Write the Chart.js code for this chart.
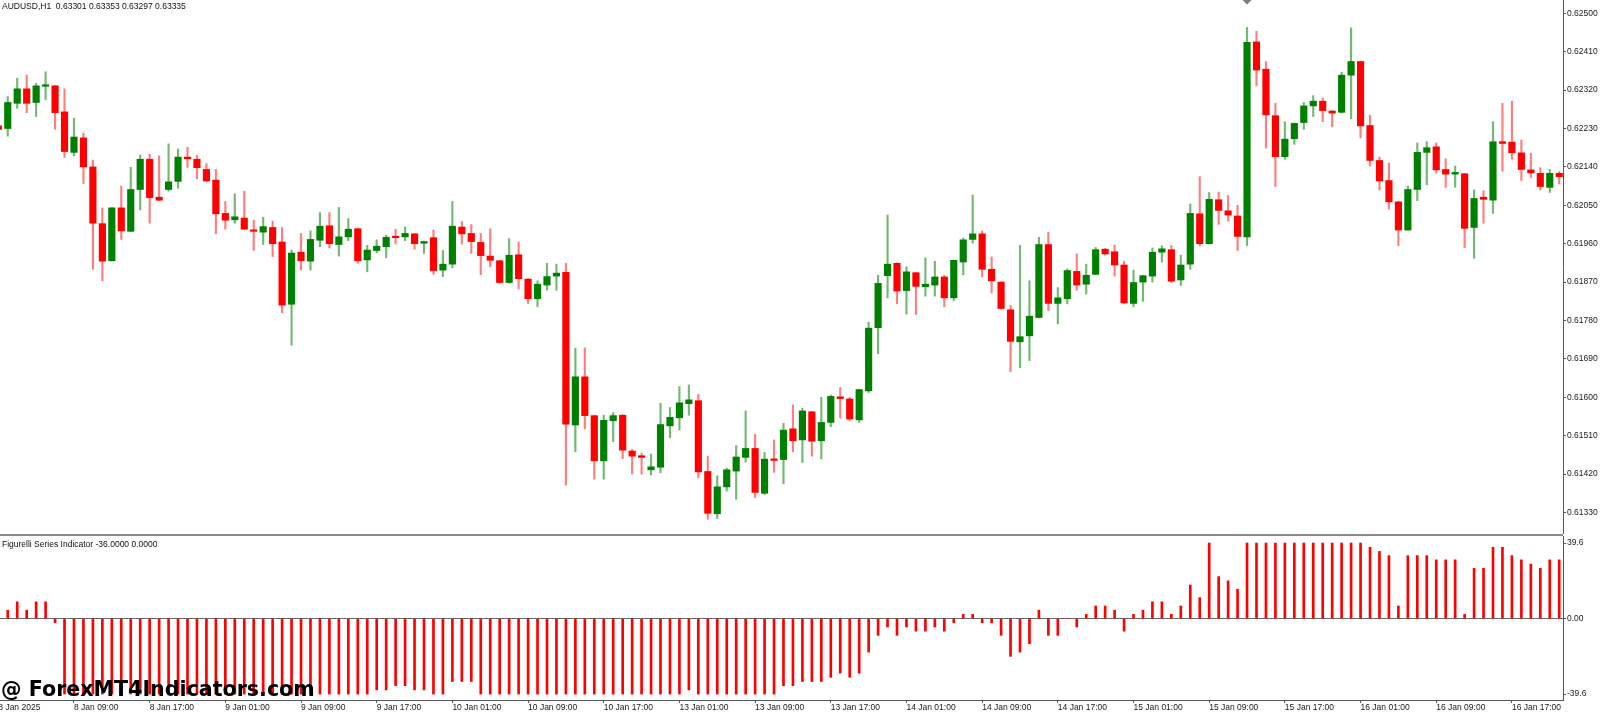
<!DOCTYPE html>
<html><head><meta charset="utf-8">
<script src="https://cdn.jsdelivr.net/npm/chart.js@4.4.1/dist/chart.umd.min.js"></script>
<style>
html,body{margin:0;padding:0;background:#fff;width:1600px;height:713px;overflow:hidden;position:relative;font-family:'Liberation Sans',Arial,sans-serif;}
#main{position:absolute;left:0;top:0;}
#ind{position:absolute;left:0;top:536px;}
.sep{position:absolute;left:0;top:534px;width:1563px;height:2px;background:#8a8a8a;}
.hdr{position:absolute;left:2px;font-size:8.5px;line-height:10px;color:#111;white-space:nowrap;}
.wm{position:absolute;left:1px;top:679px;font:bold 20.6px 'DejaVu Sans',sans-serif;line-height:20px;color:#000;white-space:nowrap;}
</style></head><body>
<canvas id="main" width="1600" height="534"></canvas>
<div class="sep"></div>
<canvas id="ind" width="1600" height="177"></canvas>
<div class="hdr" style="top:1px">AUDUSD,H1&nbsp; 0.63301 0.63353 0.63297 0.63335</div>
<div class="hdr" style="top:539px">Figurelli Series Indicator -36.0000 0.0000</div>
<div class="wm">@ ForexMT4Indicators.com</div>
<script>
// ---- data (H1 bars, 8 Jan 2025 01:00 onward) ----
const opens = [0.62236,0.62230,0.62289,0.62323,0.62291,0.62329,0.62330,0.62269,0.62174,0.62208,
0.62140,0.62007,0.61920,0.62044,0.61989,0.62087,0.62158,0.62069,0.62087,0.62106,
0.62163,0.62158,0.62134,0.62109,0.62031,0.62016,0.62020,0.61992,0.61987,0.61998,
0.61964,0.61818,0.61940,0.61919,0.61968,0.62002,0.61958,0.61976,0.61995,0.61922,
0.61944,0.61953,0.61976,0.61976,0.61983,0.61961,0.61974,0.61898,0.61912,0.61999,
0.61984,0.61963,0.61931,0.61920,0.61869,0.61934,0.61877,0.61831,0.61863,0.61884,
0.61893,0.61535,0.61648,0.61557,0.61451,0.61545,0.61558,0.61474,0.61463,0.61430,
0.61436,0.61533,0.61552,0.61585,0.61592,0.61426,0.61327,0.61390,0.61427,0.61459,
0.61480,0.61375,0.61455,0.61454,0.61526,0.61500,0.61566,0.61498,0.61541,0.61601,
0.61596,0.61547,0.61615,0.61763,0.61885,0.61914,0.61850,0.61892,0.61859,0.61863,
0.61882,0.61833,0.61917,0.61970,0.61983,0.61900,0.61870,0.61805,0.61730,0.61744,
0.61787,0.61958,0.61820,0.61831,0.61895,0.61865,0.61888,0.61947,0.61941,0.61910,
0.61820,0.61870,0.61884,0.61940,0.61946,0.61875,0.61912,0.62030,0.61960,0.62063,
0.62037,0.62025,0.61976,0.62433,0.62369,0.62260,0.62164,0.62206,0.62244,0.62283,
0.62294,0.62271,0.62268,0.62355,0.62387,0.62237,0.62155,0.62108,0.62058,0.61992,
0.62087,0.62174,0.62187,0.62134,0.62123,0.62124,0.61998,0.62069,0.62062,0.62199,
0.62198,0.62173,0.62133,0.62125,0.62092,0.62125];
const highs = [0.62240,0.62305,0.62348,0.62355,0.62336,0.62363,0.62331,0.62323,0.62254,0.62219,
0.62156,0.62044,0.62045,0.62095,0.62139,0.62168,0.62170,0.62166,0.62194,0.62182,
0.62186,0.62167,0.62148,0.62134,0.62059,0.62077,0.62083,0.62015,0.62022,0.62013,
0.61998,0.61945,0.61984,0.61990,0.62033,0.62033,0.62045,0.62019,0.61996,0.61956,
0.61969,0.61980,0.61994,0.61999,0.61984,0.61966,0.61992,0.61944,0.62059,0.62012,
0.62005,0.61984,0.61995,0.61921,0.61972,0.61964,0.61878,0.61873,0.61914,0.61912,
0.61914,0.61715,0.61716,0.61558,0.61558,0.61564,0.61559,0.61478,0.61469,0.61467,
0.61586,0.61576,0.61625,0.61629,0.61607,0.61462,0.61416,0.61434,0.61487,0.61568,
0.61513,0.61471,0.61500,0.61539,0.61582,0.61574,0.61567,0.61600,0.61605,0.61623,
0.61600,0.61619,0.61776,0.61886,0.62027,0.61915,0.61906,0.61893,0.61927,0.61919,
0.61886,0.61922,0.61973,0.62074,0.61990,0.61929,0.61871,0.61815,0.61956,0.61873,
0.61975,0.61987,0.61857,0.61901,0.61936,0.61912,0.61951,0.61949,0.61957,0.61919,
0.61898,0.61886,0.61950,0.61955,0.61956,0.61933,0.62053,0.62117,0.62080,0.62081,
0.62073,0.62050,0.62467,0.62458,0.62387,0.62289,0.62246,0.62243,0.62291,0.62307,
0.62302,0.62272,0.62362,0.62466,0.62388,0.62261,0.62163,0.62149,0.62060,0.62095,
0.62196,0.62199,0.62196,0.62159,0.62142,0.62125,0.62086,0.62084,0.62246,0.62289,
0.62294,0.62203,0.62172,0.62138,0.62134,0.62129];
const lows = [0.62224,0.62212,0.62277,0.62267,0.62258,0.62298,0.62228,0.62162,0.62166,0.62101,
0.61900,0.61873,0.61919,0.61970,0.61988,0.62039,0.62008,0.62061,0.62083,0.62090,
0.62139,0.62112,0.62105,0.61983,0.61994,0.62008,0.61993,0.61944,0.61958,0.61930,
0.61798,0.61722,0.61898,0.61898,0.61953,0.61950,0.61931,0.61967,0.61914,0.61894,
0.61939,0.61927,0.61959,0.61967,0.61947,0.61937,0.61888,0.61883,0.61903,0.61959,
0.61937,0.61887,0.61906,0.61867,0.61867,0.61854,0.61820,0.61812,0.61851,0.61851,
0.61394,0.61472,0.61526,0.61408,0.61408,0.61496,0.61456,0.61420,0.61420,0.61418,
0.61423,0.61505,0.61523,0.61558,0.61411,0.61314,0.61316,0.61380,0.61361,0.61448,
0.61365,0.61372,0.61424,0.61397,0.61472,0.61447,0.61462,0.61455,0.61531,0.61551,
0.61545,0.61541,0.61611,0.61702,0.61833,0.61819,0.61795,0.61794,0.61837,0.61837,
0.61812,0.61827,0.61887,0.61961,0.61882,0.61844,0.61807,0.61660,0.61669,0.61686,
0.61786,0.61803,0.61772,0.61819,0.61851,0.61842,0.61887,0.61933,0.61884,0.61820,
0.61812,0.61825,0.61870,0.61917,0.61869,0.61862,0.61900,0.61955,0.61959,0.62005,
0.62013,0.61944,0.61955,0.62330,0.62184,0.62094,0.62158,0.62193,0.62228,0.62258,
0.62246,0.62234,0.62266,0.62253,0.62208,0.62142,0.62086,0.62041,0.61955,0.61991,
0.62061,0.62098,0.62125,0.62092,0.62092,0.61951,0.61926,0.62008,0.62031,0.62130,
0.62158,0.62108,0.62115,0.62086,0.62080,0.62100];
const closes = [0.62228,0.62291,0.62323,0.62289,0.62330,0.62331,0.62267,0.62176,0.62210,0.62140,
0.62008,0.61919,0.62044,0.61990,0.62087,0.62158,0.62068,0.62062,0.62105,0.62163,
0.62159,0.62138,0.62107,0.62030,0.62015,0.62023,0.61994,0.61989,0.62000,0.61960,
0.61816,0.61938,0.61920,0.61970,0.62001,0.61960,0.61976,0.61994,0.61920,0.61945,
0.61954,0.61975,0.61974,0.61984,0.61960,0.61965,0.61897,0.61912,0.62001,0.61983,
0.61965,0.61932,0.61921,0.61869,0.61933,0.61878,0.61831,0.61865,0.61883,0.61891,
0.61537,0.61648,0.61557,0.61451,0.61546,0.61557,0.61476,0.61462,0.61459,0.61437,
0.61536,0.61553,0.61587,0.61594,0.61425,0.61328,0.61390,0.61430,0.61460,0.61480,
0.61377,0.61455,0.61452,0.61523,0.61498,0.61568,0.61497,0.61541,0.61602,0.61597,
0.61549,0.61618,0.61762,0.61867,0.61912,0.61849,0.61894,0.61860,0.61865,0.61882,
0.61833,0.61921,0.61969,0.61983,0.61900,0.61873,0.61808,0.61731,0.61742,0.61790,
0.61958,0.61820,0.61833,0.61897,0.61863,0.61886,0.61946,0.61936,0.61910,0.61821,
0.61869,0.61885,0.61940,0.61948,0.61872,0.61910,0.62031,0.61960,0.62064,0.62038,
0.62027,0.61977,0.62432,0.62367,0.62262,0.62164,0.62205,0.62242,0.62283,0.62294,
0.62272,0.62266,0.62355,0.62387,0.62236,0.62155,0.62107,0.62058,0.61992,0.62087,
0.62174,0.62185,0.62133,0.62123,0.62127,0.61996,0.62066,0.62064,0.62199,0.62195,
0.62173,0.62134,0.62126,0.62094,0.62125,0.62117];
// Figurelli Series Indicator histogram
const figurelli = [4.4,4.4,8.8,4.4,8.8,8.8,-2.2,-39.6,-39.6,-39.6,
-39.6,-39.6,-39.6,-39.6,-39.6,-39.6,-39.6,-39.6,-39.6,-39.6,
-39.6,-39.6,-39.6,-39.6,-39.6,-39.6,-39.6,-39.6,-39.6,-39.6,
-39.6,-39.6,-39.6,-39.6,-39.6,-39.6,-39.6,-39.6,-39.6,-39.6,
-37.4,-37.4,-35.2,-35.2,-37.4,-37.4,-39.6,-39.6,-33,-33,
-33,-39.6,-39.6,-39.6,-39.6,-39.6,-39.6,-39.6,-39.6,-39.6,
-39.6,-39.6,-39.6,-39.6,-39.6,-39.6,-39.6,-39.6,-39.6,-39.6,
-39.6,-39.6,-39.6,-37.4,-39.6,-39.6,-39.6,-39.6,-39.6,-39.6,
-39.6,-39.6,-39.6,-35.2,-35.2,-33,-33,-33,-30.8,-28.6,
-30.8,-28.6,-17.6,-8.8,-4.4,-8.8,-4.4,-6.6,-6.6,-4.4,
-6.6,-2.2,2.2,2.2,-2.2,-2.2,-8.8,-19.8,-17.6,-13.2,
4.4,-8.8,-8.8,0,-4.4,2.2,6.6,6.6,4.4,-6.6,
2.2,4.4,8.8,8.8,2.2,6.6,17.6,11,39.6,22,
19.8,15.4,39.6,39.6,39.6,39.6,39.6,39.6,39.6,39.6,
39.6,39.6,39.6,39.6,39.6,37.4,35.2,33,6.6,33,
33,33,30.8,30.8,30.8,2.2,26.4,26.4,37.4,37.4,
33,30.8,28.6,26.4,30.8,30.8];
const tickBars = [0,8,16,24,32,40,48,56,64,72,80,88,96,104,112,120,128,136,144,152,160];
const timeLabels = ["8 Jan 2025","8 Jan 09:00","8 Jan 17:00","9 Jan 01:00","9 Jan 09:00","9 Jan 17:00",
"10 Jan 01:00","10 Jan 09:00","10 Jan 17:00","13 Jan 01:00","13 Jan 09:00","13 Jan 17:00",
"14 Jan 01:00","14 Jan 09:00","14 Jan 17:00","15 Jan 01:00","15 Jan 09:00","15 Jan 17:00",
"16 Jan 01:00","16 Jan 09:00","16 Jan 17:00"];
const priceTicks = [0.62500,0.62410,0.62320,0.62230,0.62140,0.62050,0.61960,0.61870,0.61780,0.61690,0.61600,0.61510,0.61420,0.61330];
const indTicks = [39.6,0,-39.6];
const indTickLabels = ["39.6","0.00","-39.6"];
const markerBars = [132];

// ---- view ----
const X_MIN = 0.18, X_MAX = 165.4;
const P_MIN = 0.612795, P_MAX = 0.625312;
const AXIS_W = 37;
const AX = '#555';
const GREEN = '#008000', RED = '#ff0000';

Chart.defaults.font.family = "'Liberation Sans', Arial, sans-serif";
Chart.defaults.font.size = 8.5;
Chart.defaults.color = '#1a1a1a';
Chart.defaults.animation = false;

const up = closes.map((c,i)=> c >= opens[i]);
const wickData = opens.map((o,i)=>({x:i, y:[lows[i], highs[i]]}));
const bodyData = opens.map((o,i)=>({x:i, y:[o, closes[i]]}));

function fixY(s){ s.width = AXIS_W; s.paddingTop = 0; s.paddingBottom = 0; }

new Chart(document.getElementById('main'), {
  type: 'bar',
  data: { datasets: [
    { data: wickData, backgroundColor: up.map(u=>u?'rgba(0,128,0,0.55)':'rgba(255,0,0,0.5)'),
      barThickness: 1.5, grouped: false, order: 2 },
    { data: bodyData, backgroundColor: up.map(u=>u?GREEN:RED),
      barThickness: 6.5, grouped: false, minBarLength: 1.5, order: 1 },
    { type: 'line', data: markerBars.map(b=>({x:b, y:P_MAX})), showLine: false,
      pointStyle: 'rectRot', pointRadius: 4.5, pointBackgroundColor: '#71808f', pointBorderWidth: 0, clip: false, order: 0 }
  ]},
  options: {
    responsive: false, maintainAspectRatio: false,
    layout: { padding: 0, autoPadding: false },
    plugins: { legend: {display:false}, tooltip: {enabled:false} },
    scales: {
      x: { type: 'linear', min: X_MIN, max: X_MAX, offset: false, display: false, grid:{offset:false} },
      y: { position: 'right', min: P_MIN, max: P_MAX,
        afterBuildTicks: s => { s.ticks = priceTicks.map(v=>({value:v})); },
        afterFit: fixY,
        border: { display: true, color: AX, width: 1 },
        grid: { drawOnChartArea: false, drawTicks: true, tickLength: 3, tickColor: AX },
        ticks: { padding: 1, callback: v => v.toFixed(5) } }
    }
  }
});

new Chart(document.getElementById('ind'), {
  type: 'bar',
  data: { datasets: [
    { data: figurelli.map((v,i)=>({x:i, y:v})), backgroundColor: RED, barThickness: 2, grouped: false }
  ]},
  options: {
    responsive: false, maintainAspectRatio: false,
    layout: { padding: 0, autoPadding: false },
    plugins: { legend: {display:false}, tooltip: {enabled:false} },
    scales: {
      x: { type: 'linear', min: X_MIN, max: X_MAX, offset: false,
        afterBuildTicks: s => { s.ticks = tickBars.map(v=>({value:v})); },
        afterFit: s => { s.height = 13; s.paddingLeft = 0; s.paddingRight = 0; },
        border: { display: true, color: AX, width: 1 },
        grid: { offset: false, drawOnChartArea: false, drawTicks: true, tickLength: 3, tickColor: AX },
        ticks: { autoSkip: false, maxRotation: 0, minRotation: 0, align: 'start', padding: 0,
          callback: v => { const k = tickBars.indexOf(v); return k >= 0 ? timeLabels[k] : ''; } } },
      y: { position: 'right', min: -42.7, max: 43.3,
        afterBuildTicks: s => { s.ticks = indTicks.map(v=>({value:v})); },
        afterFit: fixY,
        border: { display: true, color: AX, width: 1 },
        grid: { drawOnChartArea: true, drawTicks: true, tickLength: 3, tickColor: AX,
          color: c => (c.tick && c.tick.value === 0) ? '#6a6a6a' : 'rgba(0,0,0,0)' },
        ticks: { padding: 1, callback: (v) => { const k = indTicks.indexOf(v); return k >= 0 ? indTickLabels[k] : ''; } } }
    }
  }
});
</script>
</body></html>
